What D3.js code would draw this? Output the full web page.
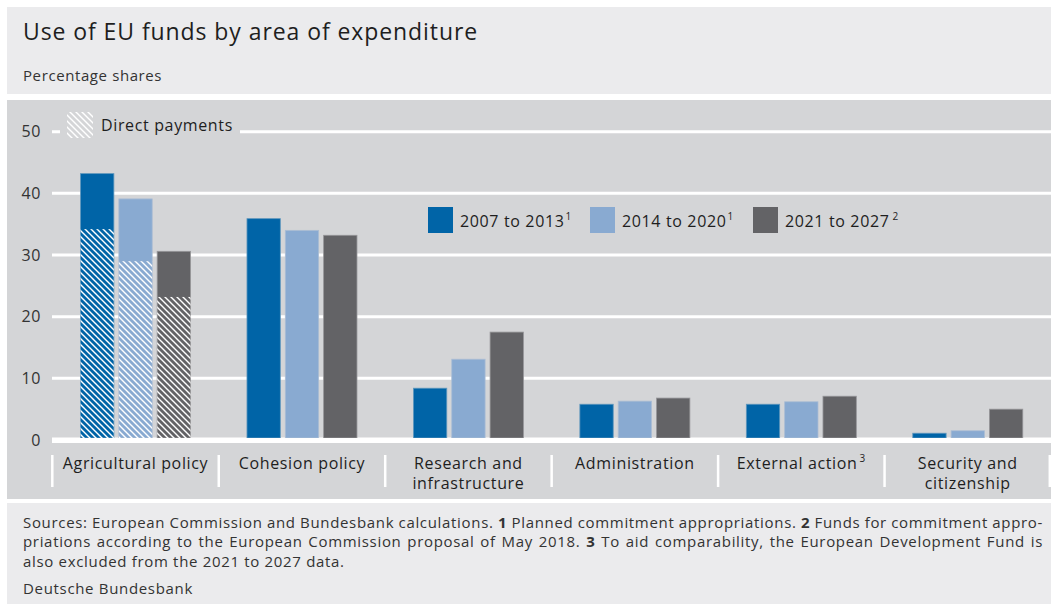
<!DOCTYPE html>
<html>
<head>
<meta charset="utf-8">
<script src="https://cdn.jsdelivr.net/npm/d3@7/dist/d3.min.js"></script>
<style>
  html, body { margin: 0; padding: 0; background: #ffffff; }
  svg { display: block; }
  text { font-family: "Open Sans", "Noto Sans", sans-serif; letter-spacing: 0.04em; }
</style>
</head>
<body>
<svg id="chart" width="1051" height="604"></svg>
<script>
// ---------- data ----------
const categories = ["Agricultural policy", "Cohesion policy", "Research and|infrastructure", "Administration", "External action", "Security and|citizenship"];
const categoryNotes = ["", "", "", "", "3", ""];
const seriesNames = ["2007 to 2013", "2014 to 2020", "2021 to 2027"];
const seriesNotes = ["1", "1", "2"];
const values2007 = [43.2, 35.9, 8.4, 5.8, 5.8, 1.1];
const values2014 = [39.1, 34.0, 13.1, 6.3, 6.2, 1.5];
const values2021 = [30.6, 33.2, 17.5, 6.8, 7.1, 5.0];
const directPayments = [34.2, 29.0, 23.2];   // Agricultural policy, per series
const yTicks = [0, 10, 20, 30, 40, 50];

const title = "Use of EU funds by area of expenditure";
const subtitle = "Percentage shares";
const directLabel = "Direct payments";
const footLines = [
  [["Sources: European Commission and Bundesbank calculations. ", false], ["1", true], [" Planned commitment appropriations. ", false], ["2", true], [" Funds for commitment appro-", false]],
  [["priations according to the European Commission proposal of May 2018. ", false], ["3", true], [" To aid comparability, the European Development Fund is", false]],
  [["also excluded from the 2021 to 2027 data.", false]]
];
const source = "Deutsche Bundesbank";

// ---------- styles ----------
const colors = ["#0064a7", "#89aad1", "#636366"];
const bgPanel = "#ebebed", bgChart = "#d4d5d7", textCol = "#1e1e1e";

const svg = d3.select("#chart");
const W = 1051;

// panels
svg.append("rect").attr("x", 7).attr("y", 7).attr("width", W - 7).attr("height", 87).attr("fill", bgPanel);
svg.append("rect").attr("x", 7).attr("y", 100).attr("width", W - 7).attr("height", 399).attr("fill", bgChart);
svg.append("rect").attr("x", 7).attr("y", 503).attr("width", W - 7).attr("height", 110).attr("fill", bgPanel);

svg.append("text").attr("x", 23).attr("y", 40).attr("font-size", 23).attr("fill", textCol).text(title);
svg.append("text").attr("x", 23).attr("y", 81).attr("font-size", 15).attr("fill", "#333").text(subtitle);

// patterns
const defs = svg.append("defs");
const pat = defs.append("pattern").attr("id", "hatch").attr("patternUnits", "userSpaceOnUse")
  .attr("width", 6).attr("height", 6);
pat.append("path").attr("d", "M-1,-1 L7,7 M-4,2 L2,8 M2,-4 L8,2")
  .attr("stroke", "#ffffff").attr("stroke-width", 1.4);

// scales
const x0 = d3.scaleBand().domain(categories).range([52.3, 1051]).paddingInner(0).paddingOuter(0);
const groupW = 110;
const x1 = d3.scaleBand().domain(seriesNames).range([0, groupW]).paddingInner(0.13);
const gOff = (x0.bandwidth() - groupW) / 2;
const y = d3.scaleLinear().domain([0, 50]).range([440, 131.7]);

// gridlines
const grid = svg.append("g");
grid.selectAll("line").data(yTicks).join("line")
  .attr("x1", 52).attr("x2", W)
  .attr("y1", d => y(d)).attr("y2", d => y(d))
  .attr("stroke", "#fff").attr("stroke-width", d => d === 0 ? 5 : 3);

// y axis labels
const yAxis = d3.axisLeft(y).tickValues(yTicks).tickSize(0).tickPadding(0);
const ya = svg.append("g").attr("transform", "translate(41,0)").call(yAxis);
ya.select(".domain").remove();
ya.selectAll("text").attr("font-size", 16).attr("fill", "#333").attr("font-family", null).attr("dy", "0.33em");

// bars
const seriesValues = [values2007, values2014, values2021];
const barData = [];
categories.forEach((c, i) => seriesNames.forEach((s, j) => barData.push({ c, s, j, v: seriesValues[j][i], dp: i === 0 ? directPayments[j] : null })));
const bars = svg.append("g");
bars.selectAll("rect.bar").data(barData).join("rect").attr("class", "bar")
  .attr("x", d => x0(d.c) + gOff + x1(d.s))
  .attr("width", x1.bandwidth())
  .attr("y", d => y(d.v))
  .attr("height", d => y(0) - y(d.v) - 2)
  .attr("fill", d => colors[d.j])
  .attr("stroke", d => d3.interpolateRgb(colors[d.j], bgChart)(0.45))
  .attr("stroke-width", 0.8);
bars.selectAll("rect.hatch").data(barData.filter(d => d.dp != null)).join("rect").attr("class", "hatch")
  .attr("x", d => x0(d.c) + gOff + x1(d.s))
  .attr("width", x1.bandwidth())
  .attr("y", d => y(d.dp))
  .attr("height", d => y(0) - y(d.dp) - 2)
  .attr("fill", "url(#hatch)");

// redraw zero line on top
svg.append("line").attr("x1", 52).attr("x2", W).attr("y1", y(0) + 0.5).attr("y2", y(0) + 0.5)
  .attr("stroke", "#fff").attr("stroke-width", 5);

// category separators and labels
const sepX = categories.map(c => x0(c)).concat([x0.range()[1] - 1.2]);
svg.append("g").selectAll("line").data(sepX).join("line")
  .attr("x1", d => d).attr("x2", d => d).attr("y1", 455).attr("y2", 487)
  .attr("stroke", "#fff").attr("stroke-width", 2.5);
const catG = svg.append("g");
categories.forEach((c, i) => {
  const lines = c.split("|");
  lines.forEach((ln, k) => {
    const t = catG.append("text").attr("x", x0(c) + x0.bandwidth() / 2).attr("y", 469 + k * 20)
      .attr("text-anchor", "middle").attr("font-size", 16).attr("fill", textCol);
    t.append("tspan").text(ln);
    if (categoryNotes[i] && k === lines.length - 1) {
      t.append("tspan").attr("font-size", 10).attr("dx", 2).attr("dy", -7).text(categoryNotes[i]);
    }
  });
});

// direct payments legend
const dl = svg.append("g");
dl.append("rect").attr("x", 60).attr("y", 112).attr("width", 180).attr("height", 26).attr("fill", bgChart);
dl.append("rect").attr("x", 67).attr("y", 112).attr("width", 26).attr("height", 26).attr("fill", "url(#hatch)");
dl.append("text").attr("x", 101).attr("y", 131).attr("font-size", 16).attr("fill", textCol).text(directLabel);

// series legend
const legX = [428, 590, 753];
const lg = svg.append("g");
seriesNames.forEach((s, j) => {
  lg.append("rect").attr("x", legX[j]).attr("y", 207).attr("width", 25).attr("height", 26).attr("fill", colors[j]);
  const t = lg.append("text").attr("x", legX[j] + 32).attr("y", 227).attr("font-size", 16).attr("fill", textCol);
  t.append("tspan").text(s);
  t.append("tspan").attr("font-size", 10).attr("dx", j === 2 ? 3 : 1).attr("dy", -7).text(seriesNotes[j]);
});

// footnotes (justified lines)
const fg = svg.append("g");
const footY = [528, 547, 567];
footLines.forEach((parts, k) => {
  const t = fg.append("text").attr("x", 23).attr("y", footY[k]).attr("font-size", 15).attr("fill", "#333")
    .style("letter-spacing", "0.045em");
  parts.forEach(([txt, bold]) => t.append("tspan").attr("font-weight", bold ? 700 : 400).text(txt));
  if (k < footLines.length - 1) {
    const target = 1043 - 23;
    const natural = t.node().getComputedTextLength();
    const spaces = parts.map(p => p[0]).join("").split(" ").length - 1;
    if (spaces > 0) t.style("word-spacing", ((target - natural) / spaces) + "px");
  }
});
fg.append("text").attr("x", 23).attr("y", 594).attr("font-size", 15).attr("fill", "#333").style("letter-spacing", "0.045em").text(source);
</script>
</body>
</html>
